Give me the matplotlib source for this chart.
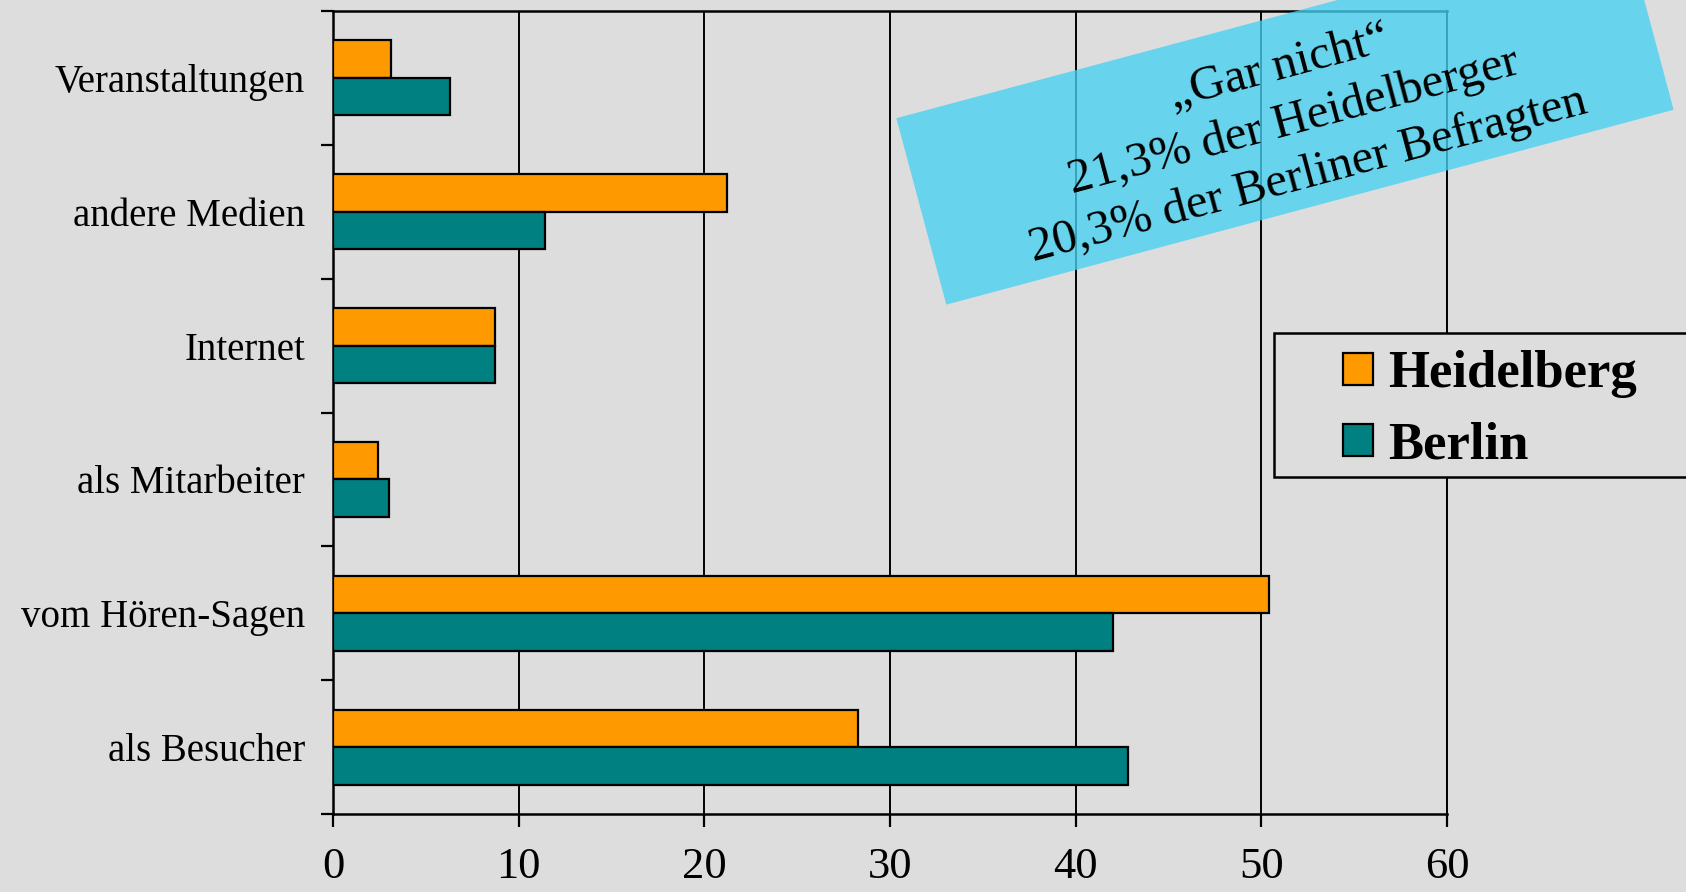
import numpy as np
import matplotlib
matplotlib.use("Agg")
import matplotlib.pyplot as plt
from matplotlib.patches import Rectangle
from matplotlib.transforms import IdentityTransform

# Survey data: how respondents got to know the project (percent)
categories = ["Veranstaltungen", "andere Medien", "Internet",
              "als Mitarbeiter", "vom Hören-Sagen", "als Besucher"]
heidelberg = [3.1, 21.2, 8.7, 2.4, 50.4, 28.3]
berlin = [6.3, 11.4, 8.7, 3.0, 42.0, 42.8]
series_names = ["Heidelberg", "Berlin"]
x_ticks = [0, 10, 20, 30, 40, 50, 60]
note_lines = ["\u201eGar nicht\u201c",
              "21,3% der Heidelberger",
              "20,3% der Berliner Befragten"]

BG = "#DDDDDD"
ORANGE = "#FF9900"
TEAL = "#008080"
SERIF = ["Liberation Serif", "DejaVu Serif"]

W, H, DPI = 1686, 892, 100
fig = plt.figure(figsize=(W / DPI, H / DPI), dpi=DPI, facecolor=BG)
ax = fig.add_axes([333 / W, 78 / H, (1447 - 333) / W, (814 - 11) / H])
ax.set_facecolor(BG)

n = len(categories)
y = np.arange(n)[::-1].astype(float)  # first category at the top
bh = 0.28
ax.barh(y + bh / 2, heidelberg, height=bh, color=ORANGE, edgecolor="black",
        linewidth=1.6, label=series_names[0], zorder=3)
ax.barh(y - bh / 2, berlin, height=bh, color=TEAL, edgecolor="black",
        linewidth=1.6, label=series_names[1], zorder=3)

ax.set_xlim(0, 60)
ax.set_ylim(-0.5, n - 0.5)
ax.set_xticks(x_ticks)
ax.set_xticklabels([str(t) for t in x_ticks], fontfamily=SERIF, fontsize=32)
ax.grid(axis="x", color="black", linewidth=1.4, zorder=1)
ax.set_axisbelow(True)

# category labels centred on each bar pair, ticks between categories
ax.set_yticks(y)
ax.set_yticklabels(categories, fontfamily=SERIF, fontsize=28)
ax.set_yticks(np.arange(-0.5, n, 1.0), minor=True)
ax.tick_params(axis="y", which="major", length=0, pad=20)
ax.tick_params(axis="y", which="minor", length=9, width=1.6, direction="out")
ax.tick_params(axis="x", length=9, width=1.6, direction="out", pad=15)

for side in ["left", "bottom", "top", "right"]:
    ax.spines[side].set_linewidth(1.8)
    ax.spines[side].set_color("black")
ax.spines["right"].set_linewidth(1.4)

# legend box on the right
px = IdentityTransform()
fig.patches.append(Rectangle((1274, H - 477), 520, 144, transform=px,
                             facecolor=BG, edgecolor="black", linewidth=1.8,
                             zorder=5))
handles, labels = ax.get_legend_handles_labels()
leg = fig.legend(handles, labels, loc="center left",
                 bbox_to_anchor=(1317 / W, 1 - 410 / H), frameon=False,
                 prop={"family": SERIF, "weight": "bold", "size": 38},
                 handlelength=0.57, handleheight=0.57, handletextpad=0.28,
                 labelspacing=0.44, borderpad=0)
leg.set_zorder(6)

# rotated note box
cx, cy, bw, bhgt, ang = 1285, H - 114, 753, 193, 15
fig.patches.append(Rectangle((cx - bw / 2, cy - bhgt / 2), bw, bhgt,
                             angle=ang, rotation_point="center", transform=px,
                             facecolor="#47D1F1", edgecolor="none", alpha=0.78,
                             zorder=7))

# note text, one rotated line at a time, stacked along the box normal
tx, ty, line_gap = 1294, H - 121, 56
normal = np.array([-np.sin(np.radians(ang)), np.cos(np.radians(ang))])
for i, line in enumerate(note_lines):
    shift = (1 - i) * line_gap
    fig.text(tx + shift * normal[0], ty + shift * normal[1], line,
             transform=px, rotation=ang, rotation_mode="anchor",
             ha="center", va="center", fontfamily=SERIF, fontsize=35,
             zorder=8)

fig.savefig("out.png", dpi=DPI, facecolor=BG)
